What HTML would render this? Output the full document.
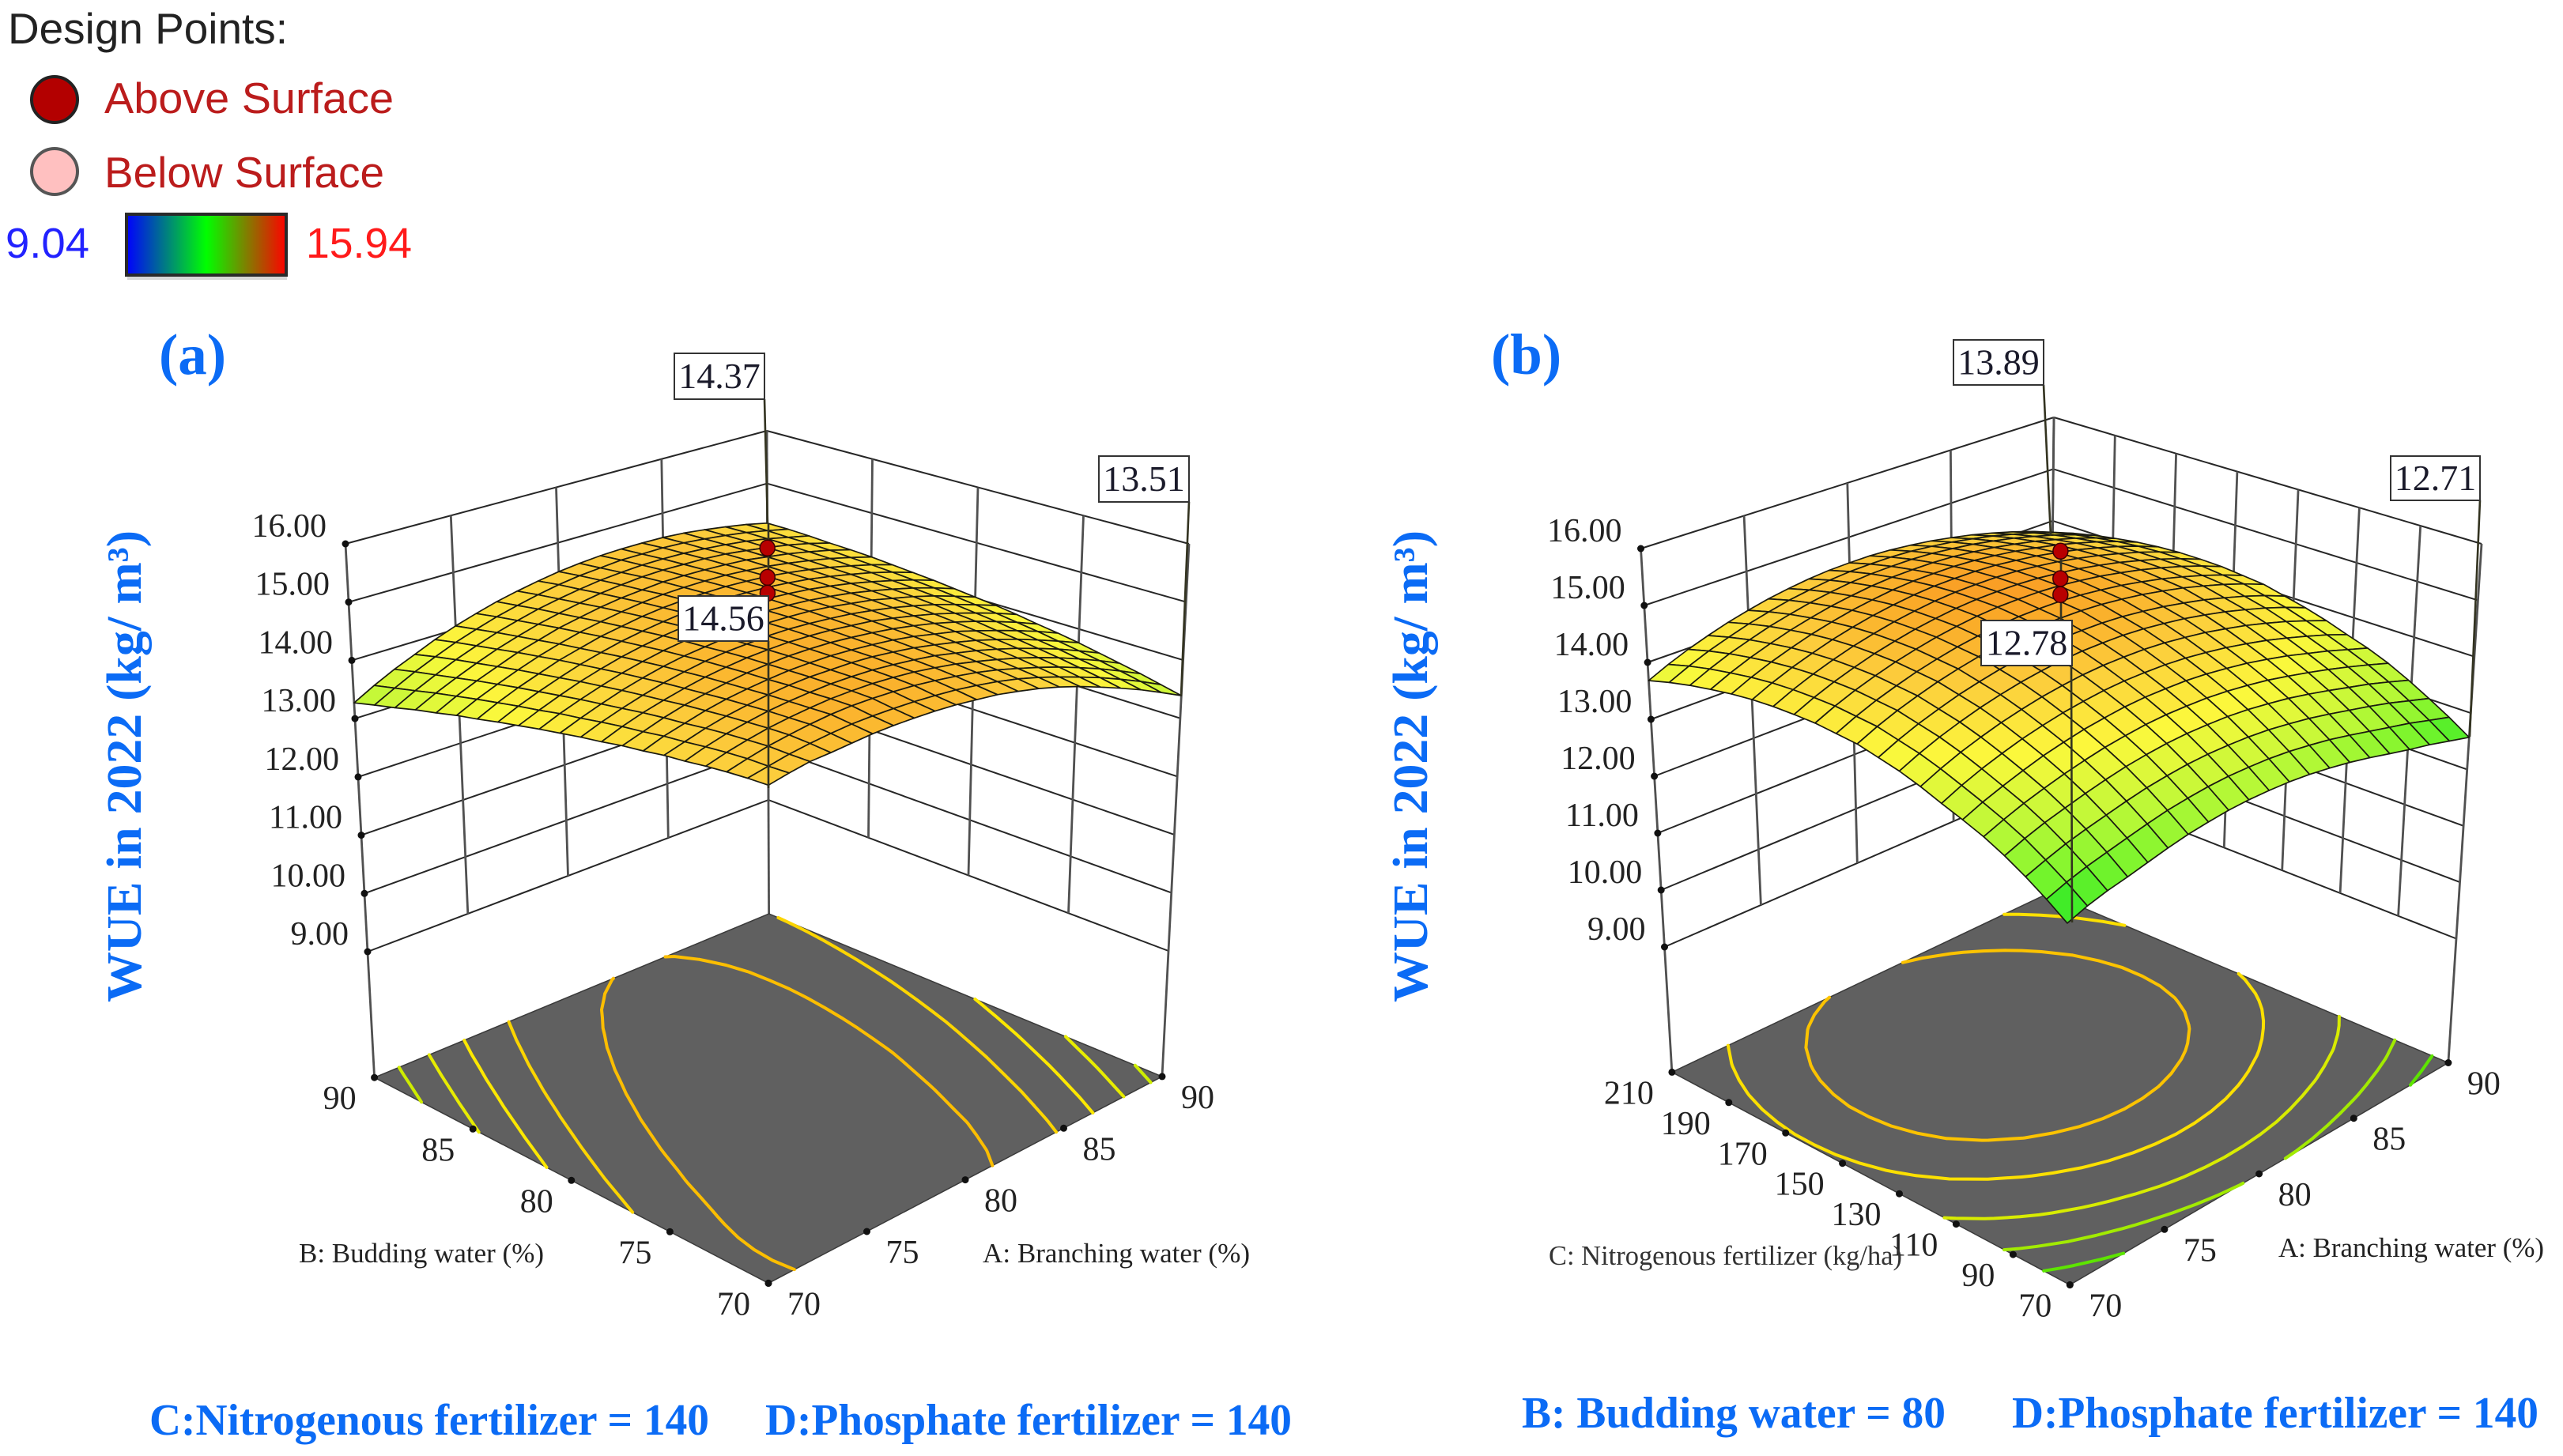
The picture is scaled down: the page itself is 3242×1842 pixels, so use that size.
<!DOCTYPE html>
<html lang="en">
<head>
<meta charset="utf-8">
<title>WUE response surfaces</title>
<style>
html,body{margin:0;padding:0;background:#fff;}
svg{display:block;}
.serif{font-family:"Liberation Serif",serif;}
.sans{font-family:"Liberation Sans",sans-serif;}
.blue{font-family:"Liberation Serif",serif;font-weight:bold;fill:#0b6bf5;}
</style>
</head>
<body>
<svg id="figure" xmlns="http://www.w3.org/2000/svg" width="3242" height="1842" viewBox="0 0 3242 1842">
  <defs>
    <linearGradient id="legendGradient" x1="0" x2="1" y1="0" y2="0">
      <stop offset="0" stop-color="#0000ff"/>
      <stop offset="0.5" stop-color="#00ff00"/>
      <stop offset="1" stop-color="#ff0000"/>
    </linearGradient>
  </defs>
  <rect x="0" y="0" width="3242" height="1842" fill="#ffffff"/>

  <g>
    <text class="sans" x="10" y="55" font-size="55" fill="#222222" textLength="354" lengthAdjust="spacingAndGlyphs">Design Points:</text>
    <circle cx="69" cy="126" r="29" fill="#b30000" stroke="#222222" stroke-width="4"/>
    <text class="sans" x="132" y="143" font-size="55" fill="#bb1c1c" textLength="366" lengthAdjust="spacingAndGlyphs">Above Surface</text>
    <circle cx="69" cy="217" r="29" fill="#ffc0c0" stroke="#555555" stroke-width="4"/>
    <text class="sans" x="132" y="237" font-size="55" fill="#bb1c1c" textLength="354" lengthAdjust="spacingAndGlyphs">Below Surface</text>
    <text class="sans" x="7" y="326" font-size="54" fill="#2222ff" textLength="106" lengthAdjust="spacingAndGlyphs">9.04</text>
    <rect x="161" y="350" width="202" height="4" fill="#d8d8d8"/>
    <rect x="160" y="271" width="202" height="77" fill="url(#legendGradient)" stroke="#2a2a2a" stroke-width="4"/>
    <text class="sans" x="387" y="326" font-size="54" fill="#ff1a1a" textLength="134" lengthAdjust="spacingAndGlyphs">15.94</text>
  </g>

  <text class="blue" x="201" y="473" font-size="73">(a)</text>
  <text class="blue" x="1886" y="473" font-size="73">(b)</text>

  <g id="chartA"></g>
  <g id="chartB"></g>

  <text class="blue" transform="translate(178 1268) rotate(-90)" x="0" y="0" font-size="62" textLength="597" lengthAdjust="spacingAndGlyphs">WUE in 2022 (kg/ m³)</text>
  <text class="blue" transform="translate(1805 1268) rotate(-90)" x="0" y="0" font-size="62" textLength="597" lengthAdjust="spacingAndGlyphs">WUE in 2022 (kg/ m³)</text>

  <text class="serif" x="378" y="1597" font-size="35" fill="#222222" textLength="310" lengthAdjust="spacingAndGlyphs">B: Budding water (%)</text>
  <text class="serif" x="1243" y="1597" font-size="35" fill="#222222" textLength="338" lengthAdjust="spacingAndGlyphs">A: Branching water (%)</text>
  <text class="serif" x="1959" y="1600" font-size="35" fill="#333333" textLength="447" lengthAdjust="spacingAndGlyphs">C: Nitrogenous fertilizer (kg/ha)</text>
  <text class="serif" x="2882" y="1590" font-size="35" fill="#222222" textLength="336" lengthAdjust="spacingAndGlyphs">A: Branching water (%)</text>

  <text class="blue" x="189" y="1815" font-size="56" textLength="708" lengthAdjust="spacingAndGlyphs">C:Nitrogenous fertilizer = 140</text>
  <text class="blue" x="968" y="1815" font-size="56" textLength="666" lengthAdjust="spacingAndGlyphs">D:Phosphate fertilizer = 140</text>
  <text class="blue" x="1925" y="1806" font-size="56" textLength="536" lengthAdjust="spacingAndGlyphs">B: Budding water = 80</text>
  <text class="blue" x="2545" y="1806" font-size="56" textLength="666" lengthAdjust="spacingAndGlyphs">D:Phosphate fertilizer = 140</text>
</svg>

<script>
// ---------- Data ----------
const zTicks = [9, 10, 11, 12, 13, 14, 15, 16];
const branchingTicks = [70, 75, 80, 85, 90];
const buddingTicks = [70, 75, 80, 85, 90];
const nitrogenTicks = [70, 90, 110, 130, 150, 170, 190, 210];

// Rows: budding water 70 -> 90 in 21 steps. Columns: branching water 70 -> 90 in 21 steps.
const surfaceA = [
[14.47,14.54,14.60,14.62,14.65,14.68,14.69,14.69,14.68,14.66,14.62,14.58,14.51,14.43,14.33,14.21,14.07,13.92,13.76,13.58,13.39],
[14.46,14.53,14.60,14.65,14.69,14.72,14.73,14.73,14.72,14.70,14.67,14.62,14.56,14.48,14.38,14.26,14.13,13.99,13.83,13.66,13.47],
[14.44,14.53,14.61,14.67,14.72,14.76,14.78,14.78,14.77,14.75,14.71,14.66,14.60,14.52,14.42,14.31,14.19,14.05,13.90,13.73,13.55],
[14.41,14.51,14.59,14.66,14.71,14.75,14.78,14.79,14.79,14.77,14.74,14.69,14.63,14.55,14.46,14.36,14.24,14.11,13.96,13.80,13.62],
[14.37,14.48,14.57,14.64,14.70,14.74,14.77,14.79,14.79,14.78,14.75,14.71,14.66,14.58,14.50,14.40,14.29,14.16,14.02,13.86,13.69],
[14.34,14.44,14.54,14.62,14.68,14.73,14.77,14.79,14.79,14.79,14.77,14.73,14.68,14.61,14.53,14.44,14.33,14.21,14.07,13.92,13.76],
[14.29,14.41,14.50,14.59,14.66,14.71,14.75,14.78,14.79,14.79,14.77,14.74,14.70,14.64,14.56,14.48,14.37,14.25,14.12,13.98,13.82],
[14.25,14.36,14.47,14.56,14.63,14.69,14.74,14.77,14.79,14.79,14.78,14.75,14.71,14.66,14.59,14.51,14.41,14.30,14.17,14.03,13.87],
[14.19,14.32,14.43,14.52,14.60,14.67,14.72,14.76,14.78,14.79,14.78,14.76,14.72,14.68,14.61,14.53,14.44,14.33,14.21,14.08,13.93],
[14.14,14.27,14.38,14.48,14.57,14.64,14.70,14.74,14.76,14.78,14.78,14.76,14.73,14.69,14.63,14.56,14.47,14.37,14.25,14.12,13.98],
[14.08,14.21,14.33,14.44,14.53,14.61,14.67,14.71,14.75,14.77,14.77,14.76,14.74,14.70,14.64,14.58,14.49,14.40,14.29,14.16,14.02],
[14.02,14.16,14.28,14.39,14.49,14.57,14.64,14.69,14.73,14.75,14.76,14.75,14.73,14.70,14.65,14.59,14.51,14.42,14.32,14.20,14.06],
[13.95,14.09,14.22,14.34,14.44,14.53,14.60,14.66,14.70,14.73,14.74,14.74,14.73,14.70,14.66,14.60,14.53,14.44,14.34,14.23,14.10],
[13.88,14.03,14.16,14.28,14.39,14.48,14.56,14.62,14.67,14.71,14.73,14.73,14.72,14.70,14.66,14.61,14.54,14.46,14.37,14.26,14.13],
[13.80,13.96,14.10,14.22,14.34,14.43,14.52,14.58,14.64,14.68,14.70,14.71,14.71,14.69,14.66,14.61,14.55,14.47,14.38,14.28,14.16],
[13.73,13.89,14.03,14.16,14.28,14.38,14.47,14.54,14.60,14.65,14.68,14.69,14.69,14.68,14.65,14.61,14.55,14.48,14.40,14.30,14.19],
[13.64,13.81,13.96,14.09,14.22,14.32,14.42,14.49,14.56,14.61,14.64,14.67,14.67,14.66,14.64,14.61,14.55,14.49,14.41,14.32,14.21],
[13.56,13.73,13.88,14.02,14.15,14.26,14.36,14.44,14.51,14.57,14.61,14.64,14.65,14.64,14.63,14.60,14.55,14.49,14.42,14.33,14.22],
[13.46,13.64,13.80,13.95,14.08,14.20,14.30,14.39,14.46,14.52,14.57,14.60,14.62,14.62,14.61,14.58,14.54,14.49,14.42,14.33,14.24],
[13.37,13.55,13.72,13.87,14.01,14.13,14.24,14.33,14.41,14.48,14.53,14.56,14.59,14.59,14.59,14.57,14.53,14.48,14.42,14.34,14.25],
[13.27,13.46,13.63,13.78,13.93,14.06,14.17,14.27,14.35,14.42,14.48,14.52,14.55,14.56,14.56,14.55,14.52,14.47,14.41,14.34,14.25]
];

// Rows: nitrogen 70 -> 210 in 21 steps. Columns: branching water 70 -> 90 in 21 steps.
const surfaceB = [
[12.44,12.57,12.67,12.75,12.84,12.93,13.01,13.07,13.12,13.15,13.16,13.16,13.14,13.10,13.05,12.98,12.90,12.82,12.75,12.66,12.57],
[12.68,12.81,12.92,13.01,13.10,13.19,13.27,13.33,13.38,13.41,13.42,13.42,13.40,13.36,13.31,13.24,13.16,13.08,13.00,12.90,12.80],
[12.90,13.03,13.15,13.25,13.34,13.43,13.51,13.57,13.62,13.65,13.66,13.66,13.64,13.60,13.55,13.48,13.40,13.32,13.23,13.12,13.01],
[13.10,13.24,13.36,13.46,13.56,13.65,13.73,13.79,13.84,13.87,13.88,13.88,13.86,13.82,13.77,13.70,13.62,13.53,13.44,13.33,13.21],
[13.27,13.41,13.54,13.65,13.75,13.84,13.92,13.98,14.03,14.06,14.07,14.07,14.05,14.01,13.96,13.89,13.81,13.72,13.62,13.51,13.39],
[13.41,13.56,13.69,13.81,13.92,14.01,14.09,14.15,14.20,14.23,14.24,14.24,14.22,14.18,14.13,14.06,13.98,13.88,13.78,13.66,13.54],
[13.54,13.70,13.84,13.96,14.07,14.16,14.24,14.30,14.35,14.38,14.39,14.39,14.37,14.33,14.28,14.21,14.13,14.03,13.92,13.80,13.66],
[13.68,13.84,13.98,14.10,14.21,14.30,14.38,14.44,14.49,14.52,14.53,14.53,14.51,14.47,14.42,14.35,14.27,14.17,14.06,13.93,13.79],
[13.80,13.96,14.10,14.22,14.33,14.42,14.50,14.56,14.61,14.64,14.65,14.65,14.63,14.59,14.54,14.47,14.39,14.29,14.18,14.05,13.90],
[13.89,14.05,14.19,14.31,14.42,14.51,14.59,14.65,14.70,14.73,14.74,14.74,14.72,14.68,14.63,14.56,14.48,14.38,14.27,14.14,13.99],
[13.98,14.14,14.28,14.40,14.51,14.60,14.68,14.74,14.79,14.82,14.83,14.83,14.81,14.77,14.72,14.65,14.57,14.47,14.36,14.23,14.08],
[14.02,14.18,14.32,14.44,14.55,14.64,14.72,14.78,14.83,14.86,14.87,14.87,14.85,14.81,14.76,14.69,14.61,14.51,14.40,14.27,14.12],
[14.06,14.22,14.36,14.48,14.59,14.68,14.76,14.82,14.87,14.90,14.91,14.91,14.89,14.85,14.80,14.73,14.65,14.55,14.44,14.31,14.16],
[14.07,14.23,14.37,14.49,14.60,14.69,14.77,14.83,14.88,14.91,14.92,14.92,14.90,14.86,14.81,14.74,14.66,14.56,14.45,14.32,14.17],
[14.07,14.23,14.37,14.49,14.60,14.69,14.77,14.83,14.88,14.91,14.92,14.92,14.90,14.86,14.81,14.74,14.66,14.56,14.45,14.32,14.17],
[14.05,14.21,14.35,14.47,14.58,14.67,14.75,14.81,14.86,14.89,14.90,14.90,14.88,14.84,14.79,14.72,14.64,14.54,14.43,14.30,14.15],
[14.01,14.17,14.31,14.43,14.54,14.63,14.71,14.77,14.82,14.85,14.86,14.86,14.84,14.80,14.75,14.68,14.60,14.50,14.39,14.26,14.11],
[13.95,14.11,14.25,14.37,14.48,14.57,14.65,14.71,14.76,14.79,14.80,14.80,14.78,14.74,14.69,14.62,14.54,14.44,14.33,14.20,14.05],
[13.88,14.04,14.18,14.30,14.41,14.50,14.58,14.64,14.69,14.72,14.73,14.73,14.71,14.67,14.62,14.55,14.47,14.37,14.26,14.13,13.98],
[13.79,13.95,14.09,14.21,14.32,14.41,14.49,14.55,14.60,14.63,14.64,14.64,14.62,14.58,14.53,14.46,14.38,14.28,14.17,14.04,13.89],
[13.68,13.84,13.98,14.10,14.21,14.30,14.38,14.44,14.49,14.52,14.53,14.53,14.51,14.47,14.42,14.35,14.27,14.17,14.06,13.93,13.78]
];

const contourLevelsA = [14.55, 14.25, 14.0, 13.75, 13.5];
const contourLevelsB = [14.5, 14.1, 13.6, 13.15, 12.75];
const designPointsA = [16.05, 15.55, 15.28];
const designPointsB = [16.0, 15.52, 15.24];

const colorStopValues = [9.04, 12.3, 12.6, 12.9, 13.3, 13.95, 14.5, 14.85, 15.94];
const colorStopRed = [0, 30, 60, 125, 185, 252, 252, 250, 255];
const colorStopGreen = [0, 225, 235, 245, 248, 248, 205, 170, 0];
const colorStopBlue = [255, 50, 40, 45, 55, 60, 60, 40, 0];

// ---------- Chart geometry ----------
const geometryA = {
  top: {F:[972,867], R:[1504,688], L:[437,688], B:[970,545]},
  bot: {F:[972,1445], R:[1478,1203], L:[465,1204], B:[972,1012]},
  floorZ: 6.84
};
const geometryB = {
  top: {F:[2613,879], R:[3139,688], L:[2075.5,694], B:[2598,528]},
  bot: {F:[2617,1447], R:[3107,1187.5], L:[2105.5,1198], B:[2593,986]},
  floorZ: 6.8
};

const NS = 'http://www.w3.org/2000/svg';
function mk(tag, attrs, parent) {
  const el = document.createElementNS(NS, tag);
  for (const k in attrs) el.setAttribute(k, attrs[k]);
  parent.appendChild(el);
  return el;
}
function bilinear(c, u, v, idx) {
  return c.F[idx]*(1-u)*(1-v) + c.R[idx]*u*(1-v) + c.L[idx]*(1-u)*v + c.B[idx]*u*v;
}
function projector(g) {
  return function(u, v, z) {
    const t = (16 - z) / 7;
    const x0 = bilinear(g.top, u, v, 0), y0 = bilinear(g.top, u, v, 1);
    const x1 = bilinear(g.bot, u, v, 0), y1 = bilinear(g.bot, u, v, 1);
    return [x0 + (x1 - x0) * t, y0 + (y1 - y0) * t];
  };
}
function scaleOf(ticks) {
  const lo = ticks[0], hi = ticks[ticks.length - 1];
  return function(value) { return (value - lo) / (hi - lo); };
}
function colorChannel(stops, z) {
  const vals = colorStopValues;
  if (z <= vals[0]) return stops[0];
  for (let i = 1; i < vals.length; i++) {
    if (z <= vals[i]) {
      const t = (z - vals[i-1]) / (vals[i] - vals[i-1]);
      return stops[i-1] + (stops[i] - stops[i-1]) * t;
    }
  }
  return stops[stops.length - 1];
}
function surfaceColor(z) {
  return 'rgb(' + Math.round(colorChannel(colorStopRed, z)) + ',' + Math.round(colorChannel(colorStopGreen, z)) + ',' + Math.round(colorChannel(colorStopBlue, z)) + ')';
}
function contourColor(z) {
  return 'rgb(' + Math.round(colorChannel(colorStopRed, z)) + ',' + Math.round(colorChannel(colorStopGreen, z) * 0.95) + ',0)';
}
// Local quadratic least squares on a 7x7 window: removes the rounding noise of the
// two-decimal values so the floor contours stay smooth where the surface is flat.
function solveLinear(m, r) {
  const n = r.length;
  for (let c = 0; c < n; c++) {
    let best = c;
    for (let k = c + 1; k < n; k++) if (Math.abs(m[k][c]) > Math.abs(m[best][c])) best = k;
    const tm = m[c]; m[c] = m[best]; m[best] = tm;
    const tr = r[c]; r[c] = r[best]; r[best] = tr;
    for (let k = c + 1; k < n; k++) {
      const f = m[k][c] / m[c][c];
      for (let q = c; q < n; q++) m[k][q] -= f * m[c][q];
      r[k] -= f * r[c];
    }
  }
  const out = new Array(n).fill(0);
  for (let c = n - 1; c >= 0; c--) {
    let s = r[c];
    for (let q = c + 1; q < n; q++) s -= m[c][q] * out[q];
    out[c] = s / m[c][c];
  }
  return out;
}
function smoothGrid(values) {
  const rows = values.length, cols = values[0].length, span = 3;
  return values.map(function(row, j) {
    return row.map(function(_, i) {
      const i0 = Math.min(Math.max(i - span, 0), cols - 1 - 2 * span);
      const j0 = Math.min(Math.max(j - span, 0), rows - 1 - 2 * span);
      const m = [], r = [0,0,0,0,0,0];
      for (let a = 0; a < 6; a++) m.push([0,0,0,0,0,0]);
      for (let y = j0; y <= j0 + 2 * span; y++) {
        for (let x = i0; x <= i0 + 2 * span; x++) {
          const dx = x - i, dy = y - j;
          const basis = [1, dx, dy, dx*dy, dx*dx, dy*dy];
          for (let a = 0; a < 6; a++) {
            r[a] += basis[a] * values[y][x];
            for (let b = 0; b < 6; b++) m[a][b] += basis[a] * basis[b];
          }
        }
      }
      return solveLinear(m, r)[0];
    });
  });
}
function contourPath(values, level, project, zf) {
  let d = '';
  const rows = values.length, cols = values[0].length;
  for (let j = 0; j < rows - 1; j++) {
    for (let i = 0; i < cols - 1; i++) {
      const corners = [[i,j],[i+1,j],[i+1,j+1],[i,j+1]];
      const hits = [];
      for (let k = 0; k < 4; k++) {
        const a = corners[k], b = corners[(k+1)%4];
        const va = values[a[1]][a[0]], vb = values[b[1]][b[0]];
        if ((va < level) !== (vb < level)) {
          const t = (level - va) / (vb - va);
          const gu = (a[0] + (b[0]-a[0]) * t) / (cols - 1);
          const gv = (a[1] + (b[1]-a[1]) * t) / (rows - 1);
          hits.push(project(gu, gv, zf));
        }
      }
      for (let h = 0; h + 1 < hits.length; h += 2) {
        d += 'M' + hits[h][0].toFixed(1) + ' ' + hits[h][1].toFixed(1) + 'L' + hits[h+1][0].toFixed(1) + ' ' + hits[h+1][1].toFixed(1);
      }
    }
  }
  return d;
}

function drawChart(cfg) {
  const root = document.getElementById(cfg.id);
  const project = projector(cfg.geometry);
  const zf = cfg.geometry.floorZ;
  const uScale = scaleOf(cfg.uTicks);
  const vScale = scaleOf(cfg.vTicks);
  const levelStyle = {stroke:'#262626', 'stroke-width':2, fill:'none'};
  const verticalStyle = {stroke:'#505050', 'stroke-width':2.8, fill:'none'};

  function wire(p, q, style) {
    return mk('line', Object.assign({x1:p[0].toFixed(1), y1:p[1].toFixed(1), x2:q[0].toFixed(1), y2:q[1].toFixed(1)}, style), root);
  }

  // Wall grid: level lines
  zTicks.forEach(function(z) {
    const a = wire(project(0,1,z), project(1,1,z), levelStyle);
    
    
    const b = wire(project(1,1,z), project(1,0,z), levelStyle);
    
    
  });
  // Wall grid: verticals
  cfg.uTicks.forEach(function(t) {
    const u = uScale(t);
    const bottom = (u === 0 || u === 1) ? zf : 9;
    const l = wire(project(u,1,16), project(u,1,bottom), verticalStyle);
    
    
  });
  cfg.vTicks.forEach(function(t) {
    const v = vScale(t);
    const bottom = (v === 0) ? zf : 9;
    const l = wire(project(1,v,16), project(1,v,bottom), verticalStyle);
    
    
  });

  // Floor
  const floorPts = [project(0,0,zf), project(1,0,zf), project(1,1,zf), project(0,1,zf)];
  const floor = mk('polygon', {points: floorPts.map(function(p){return p[0].toFixed(1)+','+p[1].toFixed(1);}).join(' '), fill:'#606060', stroke:'#3a3a3a', 'stroke-width':1.5}, root);
  
  

  // Contours on floor
  const smoothed = smoothGrid(cfg.values);
  cfg.levels.forEach(function(level) {
    const path = mk('path', {d: contourPath(smoothed, level, project, zf), fill:'none', stroke: contourColor(level), 'stroke-width':4, 'stroke-linecap':'round', 'stroke-linejoin':'round'}, root);
    
    
  });

  // Z ticks and labels
  zTicks.forEach(function(z) {
    const p = project(0,1,z);
    const dot = mk('circle', {cx:p[0].toFixed(1), cy:p[1].toFixed(1), r:4.5, fill:'#111'}, root);
    
    
    const label = mk('text', {x:(p[0]-24).toFixed(1), y:(p[1]-9).toFixed(1), 'text-anchor':'end', 'font-size':42, fill:'#222', 'font-family':'"Liberation Serif",serif'}, root);
    label.textContent = z.toFixed(2);
    
    
  });

  // Floor axis ticks: front-right edge
  cfg.uTicks.forEach(function(t) {
    const u = uScale(t);
    const p = project(u,0,zf);
    const dot = mk('circle', {cx:p[0].toFixed(1), cy:p[1].toFixed(1), r:4.5, fill:'#111'}, root);
    
    
    const label = mk('text', {x:(p[0]+24).toFixed(1), y:(p[1]+40).toFixed(1), 'text-anchor':'start', 'font-size':42, fill:'#222', 'font-family':'"Liberation Serif",serif'}, root);
    label.textContent = String(t);
    
    
  });
  // Floor axis ticks: front-left edge
  cfg.vTicks.forEach(function(t) {
    const v = vScale(t);
    const p = project(0,v,zf);
    const dot = mk('circle', {cx:p[0].toFixed(1), cy:p[1].toFixed(1), r:4.5, fill:'#111'}, root);
    
    
    const label = mk('text', {x:(p[0]-23).toFixed(1), y:(p[1]+40).toFixed(1), 'text-anchor':'end', 'font-size':42, fill:'#222', 'font-family':'"Liberation Serif",serif'}, root);
    label.textContent = String(t);
    
    
  });

  // Surface (painter's order, back to front)
  const rows = cfg.values.length, cols = cfg.values[0].length;
  for (let s = rows + cols - 4; s >= 0; s--) {
    for (let j = 0; j < rows - 1; j++) {
      const i = s - j;
      if (i < 0 || i >= cols - 1) continue;
      const zs = [cfg.values[j][i], cfg.values[j][i+1], cfg.values[j+1][i+1], cfg.values[j+1][i]];
      const pts = [
        project(i/(cols-1), j/(rows-1), zs[0]),
        project((i+1)/(cols-1), j/(rows-1), zs[1]),
        project((i+1)/(cols-1), (j+1)/(rows-1), zs[2]),
        project(i/(cols-1), (j+1)/(rows-1), zs[3])
      ];
      const mean = (zs[0]+zs[1]+zs[2]+zs[3]) / 4;
      const cell = mk('polygon', {
        points: pts.map(function(p){return p[0].toFixed(1)+','+p[1].toFixed(1);}).join(' '),
        fill: surfaceColor(mean), stroke:'#1a1a10', 'stroke-width':1.7, 'stroke-linejoin':'round'
      }, root);
      
      
    }
  }

  // Leader lines
  cfg.leaders.forEach(function(seg) {
    const l = mk('line', {x1:seg.x1, y1:seg.y1, x2:seg.x2, y2:seg.y2, stroke:'#333320', 'stroke-width':2.6}, root);
    
    
  });

  // Design points at the centre of the factor space
  cfg.points.forEach(function(z) {
    const p = project(0.5, 0.5, z);
    const c = mk('ellipse', {cx:p[0].toFixed(1), cy:p[1].toFixed(1), rx:9.5, ry:10, fill:'#b80000', stroke:'#3a0000', 'stroke-width':1.5}, root);
    
    
  });

  // Value callouts
  cfg.callouts.forEach(function(b) {
    const box = mk('rect', {x:b.x, y:b.y, width:b.w, height:b.h, fill:'#ffffff', stroke:'#333333', 'stroke-width':2}, root);
    
    
    const tx = mk('text', {x:b.x + b.w/2, y:b.y + b.h/2 + 15, 'text-anchor':'middle', 'font-size':46, fill:'#1a1a2a', 'font-family':'"Liberation Serif",serif'}, root);
    tx.textContent = b.text;
    
    
  });
}

drawChart({
  id: 'chartA',
  geometry: geometryA,
  values: surfaceA,
  levels: contourLevelsA,
  points: designPointsA,
  uTicks: branchingTicks,
  vTicks: buddingTicks,
  leaders: [
    {x1:967, y1:505, x2:971, y2:663},
    {x1:1504, y1:635, x2:1494, y2:880},
    {x1:972, y1:811, x2:972, y2:997},
    {x1:972, y1:663, x2:972, y2:754}
  ],
  callouts: [
    {x:853, y:447, w:114, h:58, text:'14.37'},
    {x:1390, y:577, w:114, h:58, text:'13.51'},
    {x:858, y:754, w:114, h:57, text:'14.56'}
  ]
});

drawChart({
  id: 'chartB',
  geometry: geometryB,
  values: surfaceB,
  levels: contourLevelsB,
  points: designPointsB,
  uTicks: branchingTicks,
  vTicks: nitrogenTicks,
  leaders: [
    {x1:2585, y1:487, x2:2594, y2:678},
    {x1:3137, y1:633, x2:3124, y2:932},
    {x1:2620, y1:842, x2:2621, y2:1167},
    {x1:2607, y1:690, x2:2607, y2:785}
  ],
  callouts: [
    {x:2471, y:430, w:114, h:57, text:'13.89'},
    {x:3024, y:577, w:113, h:56, text:'12.71'},
    {x:2506, y:785, w:115, h:57, text:'12.78'}
  ]
});
</script>
</body>
</html>
